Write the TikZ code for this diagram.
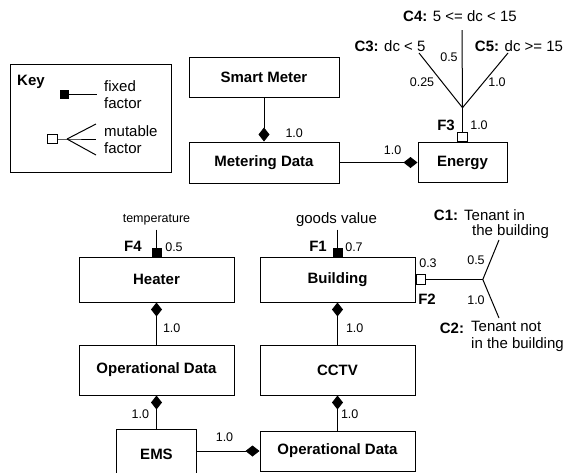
\documentclass[tikz,border=0pt]{standalone}
\usepackage{fontspec}
\setmainfont{Liberation Sans}
\usetikzlibrary{arrows.meta,positioning}

\begin{document}
\begin{tikzpicture}[
    x=1pt, y=-1pt,
    entity/.style={rectangle, draw=black, line width=1pt, minimum width=150pt, minimum height=40pt,
                   inner sep=0pt, font=\fontsize{15}{18}\selectfont\bfseries},
    num/.style={font=\fontsize{12.5}{14}\selectfont, inner sep=1pt},
    lbl/.style={font=\fontsize{15}{17}\selectfont, inner sep=0pt},
    fname/.style={font=\fontsize{15}{17}\selectfont\bfseries, inner sep=0pt},
    fixedsq/.style={rectangle, draw=black, fill=black, minimum size=8.5pt, inner sep=0pt},
    mutsq/.style={rectangle, draw=black, fill=white, line width=0.8pt, minimum size=9.5pt, inner sep=0pt},
    link/.style={line width=1pt},
    comp/.style={link, -{Diamond[length=14pt,width=11pt]}},
    rcomp/.style={link, {Diamond[length=14pt,width=11pt]}-}
]
    \useasboundingbox (0,0) rectangle (565,472);

    % Key (top left)
    \node[draw=black, line width=1pt, minimum width=161pt, minimum height=108pt] (key) at (90.5,118) {};
    \node[fname, anchor=west] (keyttl) at (17,82) {Key};
    \node[fixedsq] (kfix) at (64,94) {};
    \coordinate (kfixend) at (97,94);
    \draw[link] (kfix) -- (kfixend);
    \node[lbl, anchor=west, align=left] (kfixtxt) at (104,94.5) {fixed\\factor};
    \node[mutsq] (kmut) at (52.5,139) {};
    \coordinate (kfan) at (67,139);
    \coordinate (kfa) at (96,124);
    \coordinate (kfb) at (96,139);
    \coordinate (kfc) at (96,155);
    \draw[link] (kmut) -- (kfan) -- (kfb);
    \draw[link] (kfan) -- (kfa);
    \draw[link] (kfan) -- (kfc);
    \node[lbl, anchor=west, align=left] (kmuttxt) at (104,139.5) {mutable\\factor};

    % Smart Meter, Metering Data, Energy (top)
    \node[entity] (smart) at (264,77) {Smart Meter};
    \node[entity, minimum height=41pt, below=44pt of smart] (meter) {Metering Data};
    \node[entity, minimum width=89pt, right=78pt of meter] (energy) {Energy};

    \draw[comp] (smart) -- node[num, pos=0.82, right=20pt] {1.0} (meter);
    \draw[comp] (meter) -- node[num, pos=0.68, above=6pt] {1.0} (energy);

    % F3 on Energy (mutable)
    \node[mutsq, anchor=south] (f3) at (energy.north) {};
    \coordinate[above=24pt of f3] (f3fan);
    \coordinate (c3end) at (419,53);
    \coordinate (c4end) at (462,30);
    \coordinate (c5end) at (508,53);
    \draw[link] (f3) -- (f3fan);
    \draw[link] (f3fan) -- (c3end);
    \draw[link] (f3fan) -- (c4end);
    \draw[link] (f3fan) -- (c5end);
    \node[fname] (f3name) at (446,125) {F3};
    \node[num] (f3w) at (479,125) {1.0};
    \node[num] (w3) at (422,82) {0.25};
    \node[num] (w4) at (449,57) {0.5};
    \node[num] (w5) at (497,82) {1.0};
    \node[lbl] (c3) at (390,46) {\textbf{C3:} dc < 5};
    \node[lbl] (c4) at (460,16) {\textbf{C4:} 5 <= dc < 15};
    \node[lbl] (c5) at (519,46) {\textbf{C5:} dc >= 15};

    % Heater, Building and below
    \node[entity, minimum width=155pt, minimum height=45pt] (heater) at (156.5,279.5) {Heater};
    \node[entity, minimum width=155pt, minimum height=45pt, right=25pt of heater] (bldg) {Building};
    \node[entity, minimum width=155pt, minimum height=50pt, below=42pt of heater] (opleft) {Operational Data};
    \node[entity, minimum width=155pt, minimum height=50pt, below=42pt of bldg] (cctv) {CCTV};
    \node[entity, minimum width=80pt, minimum height=50pt, below=33pt of opleft] (ems) {EMS};
    \node[entity, minimum width=155pt, minimum height=40pt, below=35pt of cctv] (opright) {Operational Data};

    \draw[rcomp] (heater) -- node[num, pos=0.62, right=5pt] {1.0} (opleft);
    \draw[rcomp] (bldg) -- node[num, pos=0.62, right=7pt] {1.0} (cctv);
    \draw[rcomp] (opleft) -- node[num, pos=0.58, left=6pt] {1.0} (ems);
    \draw[rcomp] (cctv) -- node[num, pos=0.54, right=2pt] {1.0} (opright);
    \draw[comp] (ems.east |- opright.west) -- node[num, pos=0.44, above=8pt] {1.0} (opright.west);

    % F4 on Heater (fixed)
    \node[fixedsq, anchor=south] (f4) at (heater.north) {};
    \coordinate[above=18pt of f4] (f4top);
    \draw[link] (f4top) -- (f4);
    \node[num] (temp) at (156.5,220) {temperature};
    \node[fname] (f4name) at (133,246) {F4};
    \node[num] (f4w) at (174,247) {0.5};

    % F1 on Building (fixed)
    \node[fixedsq, anchor=south] (f1) at (bldg.north) {};
    \coordinate[above=18pt of f1] (f1top);
    \draw[link] (f1top) -- (f1);
    \node[lbl] (goods) at (336.5,220) {goods value};
    \node[fname] (f1name) at (318,246) {F1};
    \node[num] (f1w) at (354,247) {0.7};

    % F2 on Building (mutable)
    \node[mutsq, anchor=west] (f2) at (bldg.east) {};
    \coordinate[right=57pt of f2] (f2fan);
    \coordinate (c1end) at (499,240);
    \coordinate (c2end) at (499,318);
    \draw[link] (f2) -- (f2fan);
    \draw[link] (f2fan) -- (c1end);
    \draw[link] (f2fan) -- (c2end);
    \node[num] (f2w) at (428,263) {0.3};
    \node[fname] (f2name) at (427,299) {F2};
    \node[num] (w1) at (476,260) {0.5};
    \node[num] (w2) at (476,300) {1.0};
    \node[fname] (c1) at (446,215) {C1:};
    \node[lbl, anchor=west] (c1a) at (464,215) {Tenant in};
    \node[lbl, anchor=west] (c1b) at (472,232) {the building};
    \node[fname] (c2) at (452,328) {C2:};
    \node[lbl, anchor=west, align=left] (c2txt) at (471,336.5) {Tenant not\\in the building};
\end{tikzpicture}
\end{document}
